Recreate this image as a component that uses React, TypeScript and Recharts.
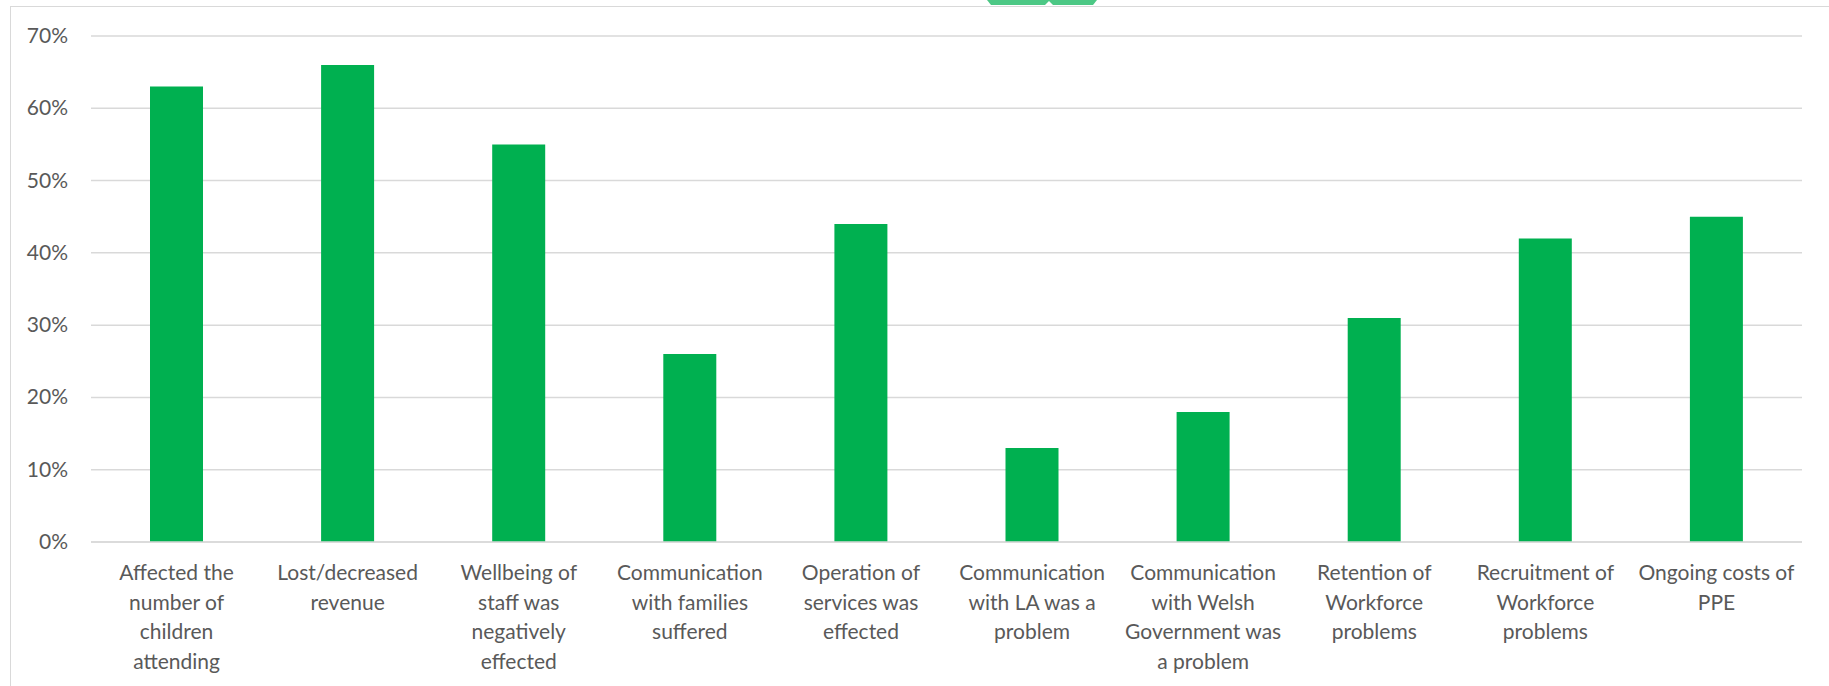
import React from "react";
import { BarChart, Bar, XAxis, YAxis, CartesianGrid } from "recharts";

const categories: string[] = [
  "Affected the number of children attending",
  "Lost/decreased revenue",
  "Wellbeing of staff was negatively effected",
  "Communication with families suffered",
  "Operation of services was effected",
  "Communication with LA was a problem",
  "Communication with Welsh Government was a problem",
  "Retention of Workforce problems",
  "Recruitment of Workforce problems",
  "Ongoing costs of PPE",
];

const labelLines: string[][] = [
  ["Affected the", "number of", "children", "attending"],
  ["Lost/decreased", "revenue"],
  ["Wellbeing of", "staff was", "negatively", "effected"],
  ["Communication", "with families", "suffered"],
  ["Operation of", "services was", "effected"],
  ["Communication", "with LA was a", "problem"],
  ["Communication", "with Welsh", "Government was", "a problem"],
  ["Retention of", "Workforce", "problems"],
  ["Recruitment of", "Workforce", "problems"],
  ["Ongoing costs of", "PPE"],
];

const values: number[] = [0.63, 0.66, 0.55, 0.26, 0.44, 0.13, 0.18, 0.31, 0.42, 0.45];

const yTicks: number[] = [0, 0.1, 0.2, 0.3, 0.4, 0.5, 0.6, 0.7];

const data = categories.map((c, i) => ({ name: c, idx: i, value: values[i] }));

const FONT = "Lato, 'Open Sans', sans-serif";
const TEXT = "#595959";
const GRID = "#d9d9d9";
const GREEN = "#00B050";

const XTick = (props: any) => {
  const { x, y, index } = props;
  const lines = labelLines[index] || [];
  return (
    <text
      x={x}
      y={y}
      textAnchor="middle"
      fill={TEXT}
      fontFamily={FONT}
      fontSize={21}
    >
      {lines.map((l, i) => (
        <tspan key={i} x={x} dy={i === 0 ? 38 : 29.5}>
          {l}
        </tspan>
      ))}
    </text>
  );
};

const YTick = (props: any) => {
  const { y, payload } = props;
  return (
    <text
      x={68}
      y={y}
      dy={7}
      textAnchor="end"
      fill={TEXT}
      fontFamily={FONT}
      fontSize={21}
    >
      {Math.round(payload.value * 100) + "%"}
    </text>
  );
};

export default function App() {
  return (
    <div
      style={{
        position: "absolute",
        left: 0,
        top: 0,
        width: 1829,
        height: 686,
        overflow: "hidden",
        background: "#fff",
      }}
    >
      <div
        style={{
          position: "absolute",
          left: 10,
          top: 6,
          width: 1900,
          height: 800,
          border: `1.5px solid ${GRID}`,
          boxSizing: "border-box",
        }}
      />
      <svg
        width={1829}
        height={10}
        style={{ position: "absolute", left: 0, top: 0 }}
      >
        <polygon points="987,0 1049,0 1049,1 1045,5 991,5" fill="#4CC885" />
        <polygon points="1049,0 1097,0 1093,5 1053,5 1049,1" fill="#4CC885" />
      </svg>
      <div style={{ position: "absolute", left: 0, top: 0 }}>
        <BarChart
          width={1829}
          height={686}
          data={data}
          margin={{ top: 36, right: 27, bottom: 0, left: 0 }}
          barSize={53}
        >
          <CartesianGrid vertical={false} stroke={GRID} strokeWidth={1.5} />
          <XAxis
            dataKey="name"
            axisLine={{ stroke: GRID, strokeWidth: 1.5 }}
            tickLine={false}
            tickSize={0}
            tickMargin={0}
            interval={0}
            tick={<XTick />}
            height={144}
          />
          <YAxis
            width={91}
            domain={[0, 0.7]}
            ticks={yTicks}
            axisLine={false}
            tickLine={false}
            tick={<YTick />}
            interval={0}
          />
          <Bar dataKey="value" fill={GREEN} isAnimationActive={false} />
        </BarChart>
      </div>
    </div>
  );
}
